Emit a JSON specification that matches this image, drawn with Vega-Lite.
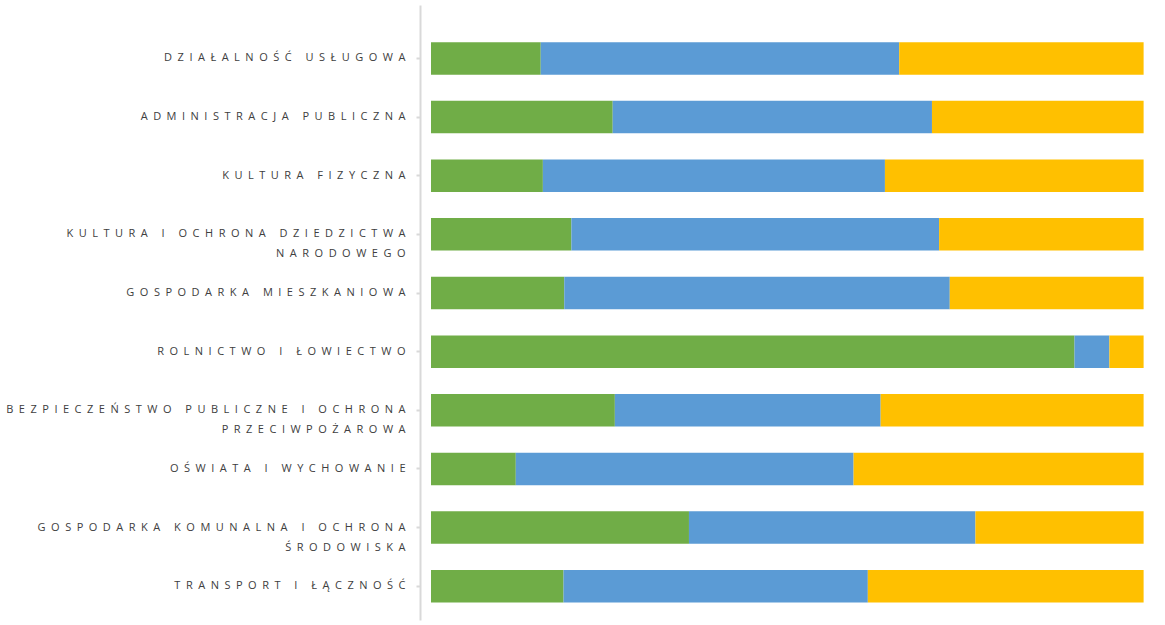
{
  "$schema": "https://vega.github.io/schema/vega-lite/v6.json",
  "width": 1165,
  "height": 625,
  "autosize": {"type": "fit", "contains": "padding"},
  "background": "white",
  "config": {"view": {"stroke": "transparent"}},
  "data": {"values": [
    {"category": "DZIAŁALNOŚĆ USŁUGOWA", "series": "Seria 1", "value": 15.4},
    {"category": "DZIAŁALNOŚĆ USŁUGOWA", "series": "Seria 2", "value": 50.3},
    {"category": "DZIAŁALNOŚĆ USŁUGOWA", "series": "Seria 3", "value": 34.3},
    {"category": "ADMINISTRACJA PUBLICZNA", "series": "Seria 1", "value": 25.5},
    {"category": "ADMINISTRACJA PUBLICZNA", "series": "Seria 2", "value": 44.8},
    {"category": "ADMINISTRACJA PUBLICZNA", "series": "Seria 3", "value": 29.7},
    {"category": "KULTURA FIZYCZNA", "series": "Seria 1", "value": 15.7},
    {"category": "KULTURA FIZYCZNA", "series": "Seria 2", "value": 48.0},
    {"category": "KULTURA FIZYCZNA", "series": "Seria 3", "value": 36.3},
    {"category": "KULTURA I OCHRONA DZIEDZICTWA|NARODOWEGO", "series": "Seria 1", "value": 19.7},
    {"category": "KULTURA I OCHRONA DZIEDZICTWA|NARODOWEGO", "series": "Seria 2", "value": 51.6},
    {"category": "KULTURA I OCHRONA DZIEDZICTWA|NARODOWEGO", "series": "Seria 3", "value": 28.7},
    {"category": "GOSPODARKA MIESZKANIOWA", "series": "Seria 1", "value": 18.7},
    {"category": "GOSPODARKA MIESZKANIOWA", "series": "Seria 2", "value": 54.1},
    {"category": "GOSPODARKA MIESZKANIOWA", "series": "Seria 3", "value": 27.2},
    {"category": "ROLNICTWO I ŁOWIECTWO", "series": "Seria 1", "value": 90.3},
    {"category": "ROLNICTWO I ŁOWIECTWO", "series": "Seria 2", "value": 4.9},
    {"category": "ROLNICTWO I ŁOWIECTWO", "series": "Seria 3", "value": 4.8},
    {"category": "BEZPIECZEŃSTWO PUBLICZNE I OCHRONA|PRZECIWPOŻAROWA", "series": "Seria 1", "value": 25.8},
    {"category": "BEZPIECZEŃSTWO PUBLICZNE I OCHRONA|PRZECIWPOŻAROWA", "series": "Seria 2", "value": 37.3},
    {"category": "BEZPIECZEŃSTWO PUBLICZNE I OCHRONA|PRZECIWPOŻAROWA", "series": "Seria 3", "value": 36.9},
    {"category": "OŚWIATA I WYCHOWANIE", "series": "Seria 1", "value": 11.9},
    {"category": "OŚWIATA I WYCHOWANIE", "series": "Seria 2", "value": 47.4},
    {"category": "OŚWIATA I WYCHOWANIE", "series": "Seria 3", "value": 40.7},
    {"category": "GOSPODARKA KOMUNALNA I OCHRONA|ŚRODOWISKA", "series": "Seria 1", "value": 36.2},
    {"category": "GOSPODARKA KOMUNALNA I OCHRONA|ŚRODOWISKA", "series": "Seria 2", "value": 40.2},
    {"category": "GOSPODARKA KOMUNALNA I OCHRONA|ŚRODOWISKA", "series": "Seria 3", "value": 23.6},
    {"category": "TRANSPORT I ŁĄCZNOŚĆ", "series": "Seria 1", "value": 18.6},
    {"category": "TRANSPORT I ŁĄCZNOŚĆ", "series": "Seria 2", "value": 42.7},
    {"category": "TRANSPORT I ŁĄCZNOŚĆ", "series": "Seria 3", "value": 38.7}
  ]},
  "mark": {"type": "bar"},
  "encoding": {
    "y": {"field": "category", "type": "nominal",
      "scale": {"paddingInner": 0.446, "paddingOuter": 0.466, "align": 0.68,
        "domain": ["DZIAŁALNOŚĆ USŁUGOWA", "ADMINISTRACJA PUBLICZNA", "KULTURA FIZYCZNA", "KULTURA I OCHRONA DZIEDZICTWA|NARODOWEGO", "GOSPODARKA MIESZKANIOWA", "ROLNICTWO I ŁOWIECTWO", "BEZPIECZEŃSTWO PUBLICZNE I OCHRONA|PRZECIWPOŻAROWA", "OŚWIATA I WYCHOWANIE", "GOSPODARKA KOMUNALNA I OCHRONA|ŚRODOWISKA", "TRANSPORT I ŁĄCZNOŚĆ"]},
      "axis": {"title": null, "offset": 11, "domainColor": "#D9D9D9", "domainWidth": 2,
        "tickColor": "#D9D9D9", "tickWidth": 2, "tickSize": 4,
        "labelPadding": 11, "labelFontSize": 11, "labelFont": "Open Sans", "labelColor": "#404040",
        "labelLimit": 0, "labelLineHeight": 20,
        "labelExpr": "split(replace(join(split(datum.label, ''), '\u2002'), '\u2002|\u2002', '|'), '|')"}},
    "x": {"field": "value", "type": "quantitative", "stack": "zero",
      "scale": {"domain": [0, 102.3], "nice": false}, "axis": null},
    "color": {"field": "series", "type": "nominal", "legend": null,
      "scale": {"domain": ["Seria 1", "Seria 2", "Seria 3"], "range": ["#70AD47", "#5B9BD5", "#FFC000"]}}
  }
}
